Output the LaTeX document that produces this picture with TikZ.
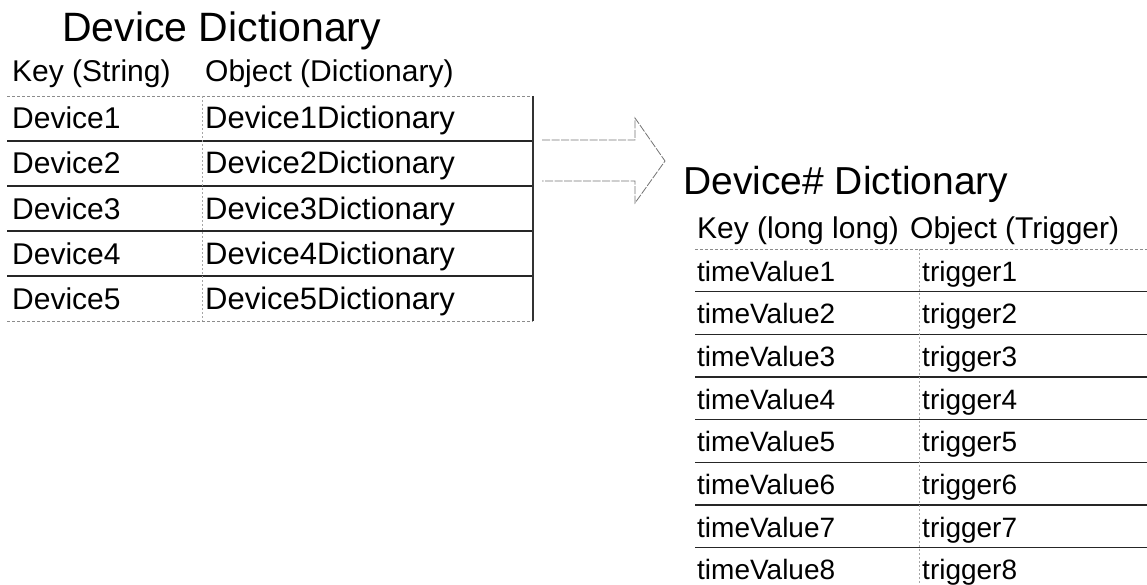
\documentclass[tikz,border=0pt]{standalone}
\usepackage{fontspec}
\setmainfont{Liberation Sans}
\begin{document}
\begin{tikzpicture}[x=1pt,y=-1pt,
  title/.style={anchor=base west,inner sep=0pt,font=\fontsize{41}{41}\selectfont},
  cell/.style={anchor=base west,inner sep=0pt,font=\fontsize{30}{30}\selectfont},
  smallcell/.style={anchor=base west,inner sep=0pt,font=\fontsize{28}{28}\selectfont},
  rowline/.style={draw=black!85,line width=1.4pt},
  edgeline/.style={draw=black!45,line width=0.8pt,dash pattern=on 3pt off 2pt},
  colline/.style={draw=black!35,line width=0.6pt,dash pattern=on 2pt off 2pt},
  frameline/.style={draw=black!80,line width=1.4pt},
  blockarrow/.style={draw=black!55,line width=0.8pt,dash pattern=on 8pt off 1.5pt}]
\useasboundingbox (0,0) rectangle (1147,585);

% ---- Device Dictionary ----
\node[title] (t1) at (62,42) {Device Dictionary};
\node[cell] (h1k) at (12,82) {Key (String)};
\node[cell] (h1o) at (205,82) {Object (Dictionary)};
\foreach \i in {1,...,5}{
  \node[cell] (d\i) at (12,{129+45*(\i-1)}) {Device\i};
  \node[cell,font=\fontsize{31}{31}\selectfont] (o\i) at (205,{129+45*(\i-1)}) {Device\i Dictionary};
}
\coordinate (aTL) at (7,96);
\coordinate (aTR) at (533,96);
\coordinate (aBL) at (7,321);
\coordinate (aBR) at (533,321);
\draw[edgeline] (aTL) -- (aTR);
\draw[edgeline] (aBL) -- (aBR);
\foreach \j in {1,...,4}{
  \draw[rowline] (7,{141+45*(\j-1)}) -- (533,{141+45*(\j-1)});
}
\draw[frameline] (aTR) -- (aBR);
\draw[colline] (202,96) -- (202,321);

% ---- open block arrow ----
\coordinate (p1) at (542,140);
\coordinate (p2) at (635,140);
\coordinate (p3) at (635,118);
\coordinate (tip) at (665,161);
\coordinate (p5) at (635,203);
\coordinate (p6) at (635,181);
\coordinate (p7) at (542,181);
\draw[blockarrow] (p1) -- (p2) -- (p3) -- (tip) -- (p5) -- (p6) -- (p7);

% ---- Device# Dictionary ----
\node[title,font=\fontsize{39}{39}\selectfont] (t2) at (683,195) {Device\# Dictionary};
\node[cell] (h2k) at (697,238) {Key (long long)};
\node[cell] (h2o) at (910,238) {Object (Trigger)};
\foreach \i in {1,...,8}{
  \node[smallcell] (v\i) at (697,{281+42.7*(\i-1)}) {timeValue\i};
  \node[smallcell] (g\i) at (922,{281+42.7*(\i-1)}) {trigger\i};
}
\draw[edgeline] (695,249) -- (1147,249);
\foreach \j in {1,...,7}{
  \draw[rowline] (695,{291.5+42.7*(\j-1)}) -- (1147,{291.5+42.7*(\j-1)});
}
\draw[colline] (919,249) -- (919,585);
\end{tikzpicture}
\end{document}
